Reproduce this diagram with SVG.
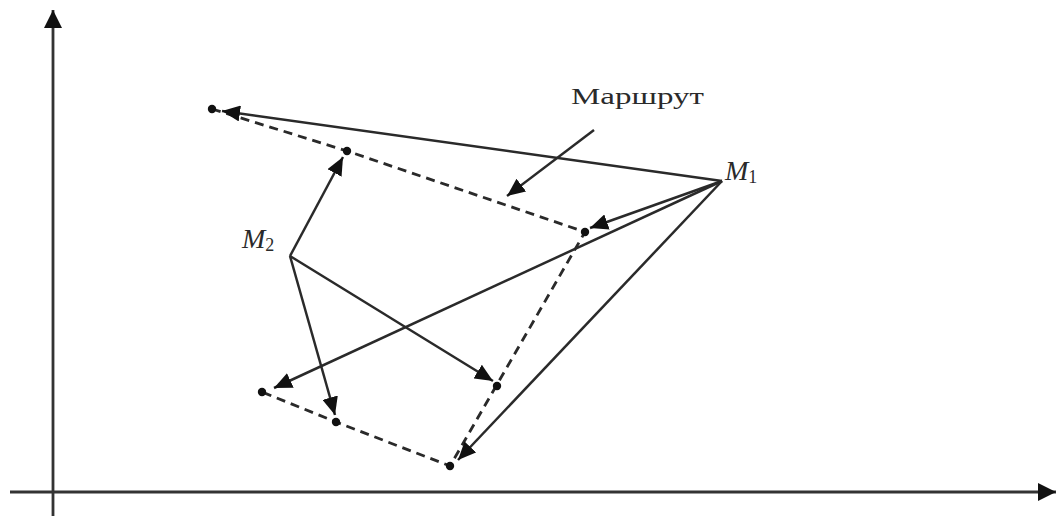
<svg xmlns="http://www.w3.org/2000/svg" width="1058" height="520" viewBox="0 0 1058 520">
<style>
.ax{stroke:#333;stroke-width:2.8;fill:none}
.s{stroke:#2a2a2a;stroke-width:2.5;fill:none}
.d{stroke:#2a2a2a;stroke-width:2.8;fill:none;stroke-dasharray:9 6}
.pt{fill:#111}
.lbl{font-family:"Liberation Serif",serif;fill:#2a2a2a}
</style>
<defs>
<marker id="ah" markerUnits="userSpaceOnUse" markerWidth="20" markerHeight="16" refX="18" refY="8" orient="auto">
<path d="M0,0 L18,8 L0,16 Z" fill="#111"/>
</marker>
<marker id="axh" markerUnits="userSpaceOnUse" markerWidth="20" markerHeight="18" refX="18" refY="9" orient="auto">
<path d="M0,0 L18,9 L0,18 Z" fill="#111"/>
</marker>
</defs>
<g id="axes">
<line class="ax" x1="53" y1="516" x2="53" y2="10" marker-end="url(#axh)"/>
<line class="ax" x1="10" y1="492" x2="1056" y2="492" marker-end="url(#axh)"/>
</g>
<g id="route">
<polyline class="d" points="212,109 347,151 585,232 450,466 336,422 262,392"/>
</g>
<g id="connectors">
<line class="s" x1="722" y1="181" x2="222" y2="111" marker-end="url(#ah)"/>
<line class="s" x1="722" y1="181" x2="590" y2="228" marker-end="url(#ah)"/>
<line class="s" x1="722" y1="181" x2="274" y2="388" marker-end="url(#ah)"/>
<line class="s" x1="722" y1="181" x2="458" y2="460" marker-end="url(#ah)"/>
<line class="s" x1="290" y1="256" x2="343" y2="157" marker-end="url(#ah)"/>
<line class="s" x1="290" y1="256" x2="335" y2="415" marker-end="url(#ah)"/>
<line class="s" x1="290" y1="256" x2="493" y2="381" marker-end="url(#ah)"/>
<line class="s" x1="594" y1="130" x2="507" y2="196" marker-end="url(#ah)"/>
</g>
<g id="points">
<circle class="pt" cx="212" cy="109" r="4.2"/>
<circle class="pt" cx="347" cy="151" r="4.2"/>
<circle class="pt" cx="585" cy="232" r="4.2"/>
<circle class="pt" cx="497" cy="386" r="4.2"/>
<circle class="pt" cx="450" cy="466" r="4.2"/>
<circle class="pt" cx="336" cy="422" r="4.2"/>
<circle class="pt" cx="262" cy="392" r="4.2"/>
</g>
<g id="M1">
<text class="lbl" x="725" y="180" font-size="28" font-style="italic">M<tspan font-size="18" font-style="normal" dy="3">1</tspan></text>
</g>
<g id="M2">
<text class="lbl" x="242" y="248" font-size="28" font-style="italic">M<tspan font-size="18" font-style="normal" dy="3">2</tspan></text>
</g>
<g id="label">
<text class="lbl" x="571" y="104" font-size="24" textLength="133" lengthAdjust="spacingAndGlyphs">Маршрут</text>
</g>
</svg>
